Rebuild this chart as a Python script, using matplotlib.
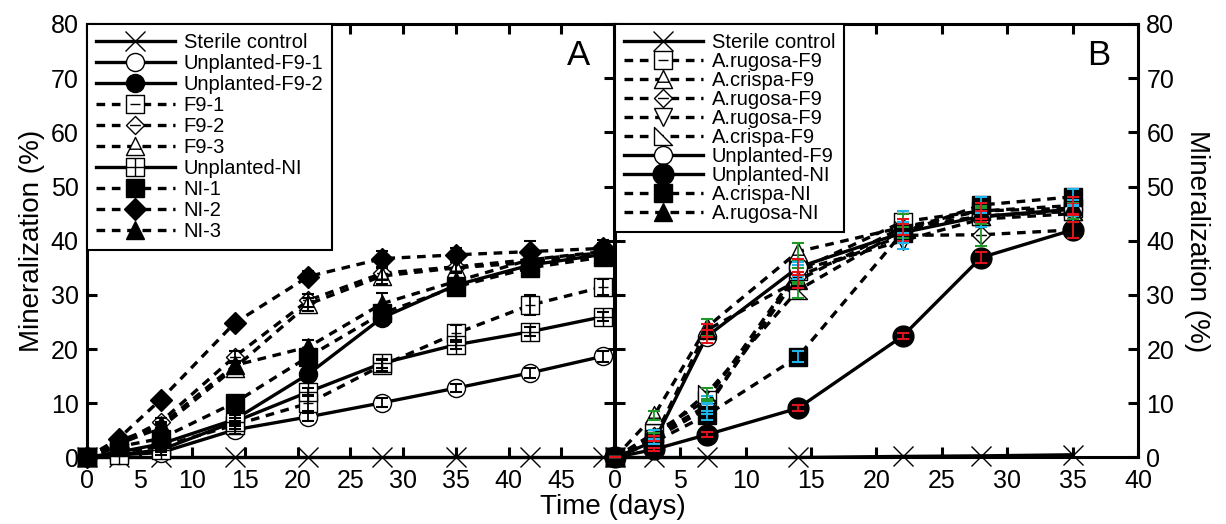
import matplotlib
matplotlib.use("Agg")
import matplotlib.pyplot as plt
from matplotlib.path import Path

plt.rcParams['font.family'] = ['Liberation Sans', 'DejaVu Sans']

# ---- data, panel A ----
days_a = [0, 3, 7, 14, 21, 28, 35, 42, 49]
sterile_a = [0, 0, 0, 0, 0, 0, 0, 0, 0]
unpl_f9_1 = [0, 0.5, 0.9, 5.1, 7.5, 10.1, 12.8, 15.6, 18.7]
unpl_f9_2 = [0, 1.0, 2.5, 7.0, 15.4, 25.8, 31.8, 35.5, 37.5]
f9_1 = [0, 1.0, 2.0, 6.0, 10.0, 17.0, 22.9, 28.1, 31.5]
f9_2 = [0, 2.5, 6.6, 18.6, 29.0, 34.0, 35.2, 36.5, 37.8]
f9_3 = [0, 2.5, 5.5, 16.5, 28.3, 33.5, 35.0, 36.0, 37.5]
unpl_ni = [0, 0.5, 1.4, 6.6, 12.1, 17.4, 20.8, 23.2, 26.0]
ni_1 = [0, 2.0, 3.5, 10.1, 18.6, 26.6, 31.5, 35.0, 37.0]
ni_2 = [0, 3.5, 10.7, 24.8, 33.4, 36.7, 37.4, 38.0, 38.6]
ni_3 = [0, 3.0, 6.0, 17.0, 20.4, 28.4, 32.5, 36.5, 38.0]

err_unpl_f9_1 = [0, 0.3, 0.5, 0.8, 0.8, 0.8, 0.8, 0.9, 1.0]
err_unpl_f9_2 = [0, 0.3, 0.5, 0.8, 1.0, 1.0, 1.0, 1.2, 1.2]
err_f9_1 = [0, 0.3, 0.5, 0.8, 1.5, 1.0, 1.5, 1.8, 1.5]
err_f9_2 = [0, 0.3, 0.6, 1.0, 1.2, 1.2, 1.0, 1.2, 1.0]
err_f9_3 = [0, 0.3, 0.6, 1.0, 1.2, 1.5, 1.0, 1.2, 1.0]
err_unpl_ni = [0, 0.3, 0.4, 0.6, 0.8, 0.8, 0.8, 0.8, 0.8]
err_ni_1 = [0, 0.3, 0.5, 0.8, 1.5, 1.0, 1.0, 1.2, 1.2]
err_ni_2 = [0, 0.3, 0.5, 0.8, 1.0, 1.5, 1.2, 2.0, 1.5]
err_ni_3 = [0, 0.3, 0.5, 0.8, 1.2, 2.0, 1.5, 1.5, 1.5]

# ---- data, panel B ----
days_b = [0, 3, 7, 14, 22, 28, 35]
sterile_b = [0, 0, 0, 0, 0.2, 0.3, 0.5]
rug_f9_sq = [0, 4.5, 10.6, 34.5, 43.5, 45.5, 46.0]
cri_f9_tri = [0, 7.8, 24.0, 38.0, 42.5, 44.5, 45.5]
rug_f9_dia = [0, 4.0, 9.5, 33.5, 41.0, 41.1, 42.0]
rug_f9_down = [0, 3.5, 9.0, 34.5, 40.0, 44.0, 45.0]
cri_f9_rt = [0, 3.5, 11.8, 30.9, 42.0, 44.5, 45.5]
unpl_f9_b = [0, 3.0, 22.3, 35.1, 41.5, 44.5, 45.8]
unpl_ni_b = [0, 1.5, 4.2, 9.1, 22.4, 36.9, 42.0]
cri_ni = [0, 2.9, 7.8, 18.6, 41.5, 46.6, 48.1]
rug_ni = [0, 3.5, 23.5, 32.7, 42.5, 45.5, 46.5]

err_rug_f9_sq = [0, 0.5, 0.8, 1.0, 2.0, 1.5, 1.5]
err_cri_f9_tri = [0, 0.8, 1.5, 1.5, 2.5, 2.0, 1.5]
err_rug_f9_dia = [0, 0.5, 1.0, 1.5, 1.5, 2.0, 1.5]
err_rug_f9_down = [0, 0.5, 1.0, 1.5, 1.5, 1.5, 1.5]
err_cri_f9_rt = [0, 0.5, 1.0, 1.5, 1.5, 1.5, 1.5]
err_unpl_f9_b = [0, 0.5, 1.2, 1.5, 1.5, 1.0, 1.0]
err_unpl_ni_b = [0, 0.3, 0.5, 0.5, 0.5, 1.0, 1.5]
err_cri_ni = [0, 0.5, 0.8, 1.0, 2.0, 1.5, 1.5]
err_rug_ni = [0, 0.5, 1.2, 1.5, 1.5, 1.5, 1.5]

RED, GREEN, CYAN = '#e3121b', '#1f9a2a', '#1fb4ea'


# custom markers: outline plus inner strokes
def make_marker(outline, strokes):
    verts = list(outline) + [outline[0]]
    codes = [Path.MOVETO] + [Path.LINETO] * (len(outline) - 1) + [Path.CLOSEPOLY]
    for a, b in strokes:
        verts += [a, b]
        codes += [Path.MOVETO, Path.LINETO]
    return Path(verts, codes)


SQ = [(-1, -1), (1, -1), (1, 1), (-1, 1)]
DIA = [(0, -1), (1, 0), (0, 1), (-1, 0)]
TRI = [(-1, -1), (1, -1), (0, 1)]
sq_minus = make_marker(SQ, [((-0.55, 0), (0.55, 0))])
sq_plus = make_marker(SQ, [((-1, 0), (1, 0)), ((0, -1), (0, 1))])
dia_minus = make_marker(DIA, [((-0.6, 0), (0.6, 0))])
tri_minus = make_marker(TRI, [((-0.6, -0.3), (0.6, -0.3))])
right_tri = make_marker([(-1, 1), (-1, -1), (1, -1)], [])


def series(ax, x, y, err, marker, filled, dashed, label, ecolor='black', ms=13):
    ax.plot(x, y, color='black', lw=2.4, ls=(0, (2.6, 2.0)) if dashed else '-',
            marker=marker, ms=ms, mfc='black' if filled else 'white',
            mec='black', mew=1.0, label=label, clip_on=False, zorder=3)
    if err is not None:
        ax.errorbar(x, y, yerr=err, fmt='none', ecolor=ecolor, elinewidth=1.3,
                    capsize=4, capthick=1.5, zorder=4, clip_on=False)


fig = plt.figure(figsize=(12.26, 5.24), dpi=100)
axA = fig.add_axes([0.07096, 0.12691, 0.42985, 0.82729])
axB = fig.add_axes([0.50163, 0.12691, 0.42659, 0.82729])

# panel A
series(axA, days_a, sterile_a, None, 'x', False, False, 'Sterile control', ms=15)
series(axA, days_a, unpl_f9_1, err_unpl_f9_1, 'o', False, False, 'Unplanted-F9-1')
series(axA, days_a, unpl_f9_2, err_unpl_f9_2, 'o', True, False, 'Unplanted-F9-2')
series(axA, days_a, f9_1, err_f9_1, sq_minus, False, True, 'F9-1')
series(axA, days_a, f9_2, err_f9_2, dia_minus, False, True, 'F9-2')
series(axA, days_a, f9_3, err_f9_3, tri_minus, False, True, 'F9-3')
series(axA, days_a, unpl_ni, err_unpl_ni, sq_plus, False, False, 'Unplanted-NI')
series(axA, days_a, ni_1, err_ni_1, 's', True, True, 'NI-1')
series(axA, days_a, ni_2, err_ni_2, 'D', True, True, 'NI-2', ms=11)
series(axA, days_a, ni_3, err_ni_3, '^', True, True, 'NI-3')

# panel B
series(axB, days_b, sterile_b, None, 'x', False, False, 'Sterile control', ms=15)
series(axB, days_b, rug_f9_sq, err_rug_f9_sq, sq_minus, False, True, 'A.rugosa-F9', CYAN)
series(axB, days_b, cri_f9_tri, err_cri_f9_tri, tri_minus, False, True, 'A.crispa-F9', GREEN)
series(axB, days_b, rug_f9_dia, err_rug_f9_dia, dia_minus, False, True, 'A.rugosa-F9', GREEN)
series(axB, days_b, rug_f9_down, err_rug_f9_down, 'v', False, True, 'A.rugosa-F9', CYAN)
series(axB, days_b, cri_f9_rt, err_cri_f9_rt, right_tri, False, True, 'A.crispa-F9', GREEN)
series(axB, days_b, unpl_f9_b, err_unpl_f9_b, 'o', False, False, 'Unplanted-F9', RED)
series(axB, days_b, unpl_ni_b, err_unpl_ni_b, 'o', True, False, 'Unplanted-NI', RED, ms=15)
series(axB, days_b, cri_ni, err_cri_ni, 's', True, True, 'A.crispa-NI', CYAN)
series(axB, days_b, rug_ni, err_rug_ni, '^', True, True, 'A.rugosa-NI', RED)

for ax in (axA, axB):
    ax.set_ylim(0, 80)
    ax.set_yticks(range(0, 81, 10))
    for s in ax.spines.values():
        s.set_linewidth(2.2)
    ax.tick_params(direction='in', length=7, width=2.2, labelsize=18, pad=6,
                   top=True, bottom=True, left=True, right=True)
    ax.tick_params(axis='x', pad=8)

axA.set_xlim(0, 50)
axA.set_xticks(range(0, 51, 5))
axA.set_xticklabels([str(v) for v in range(0, 46, 5)] + [''])
axB.set_xlim(0, 40)
axB.set_xticks(range(0, 41, 5))
axB.tick_params(labelleft=False, labelright=True)

axA.set_ylabel('Mineralization (%)', fontsize=20, labelpad=4)
axB.yaxis.set_label_position('right')
axB.set_ylabel('Mineralization (%)', fontsize=20, rotation=270, labelpad=26)
fig.text(0.5, 0.008, 'Time (days)', ha='center', va='bottom', fontsize=20)

axA.text(0.955, 0.965, 'A', transform=axA.transAxes, ha='right', va='top', fontsize=25)
axB.text(0.947, 0.965, 'B', transform=axB.transAxes, ha='right', va='top', fontsize=25)

for ax, sp in ((axA, 0.1), (axB, 0.0)):
    leg = ax.legend(loc='upper left', bbox_to_anchor=(0, 1), borderaxespad=0,
                    fontsize=14.5, labelspacing=sp, handlelength=3.9,
                    handletextpad=0.45, borderpad=0.45, fancybox=False,
                    framealpha=1, edgecolor='black', numpoints=1)
    leg.get_frame().set_linewidth(1.5)
    leg.set_zorder(10)

fig.savefig('out.png', dpi=100)
